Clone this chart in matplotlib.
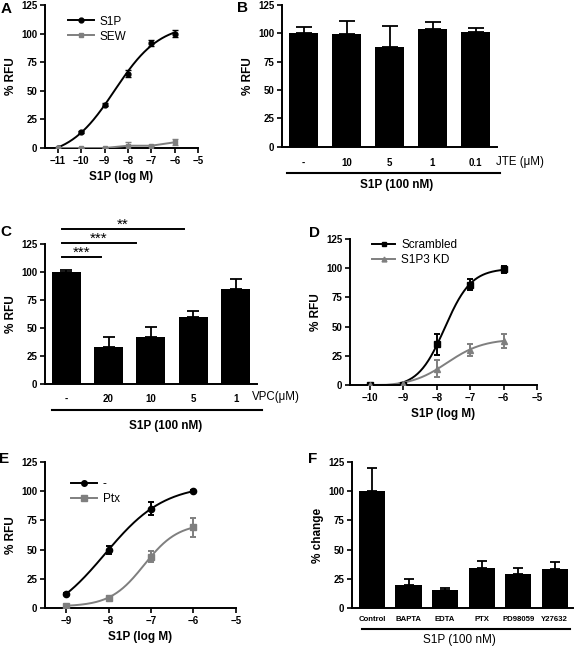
import numpy as np
import matplotlib
matplotlib.use('Agg')
import matplotlib.pyplot as plt

plt.rcParams['font.family'] = ['Liberation Sans', 'DejaVu Sans']

# ---------------- data ----------------
# A
a_x = [-11, -10, -9, -8, -7, -6]
a_s1p = [0, 14, 38, 65, 92, 100]
a_s1p_err = [0, 1, 1, 3, 2.5, 3]
a_sew = [0, 0, 0, 2, 2, 5]
a_sew_err = [0, 0, 0, 3, 0.5, 2.5]

# B
b_labels = ['-', '10', '5', '1', '0.1']
b_vals = [100, 99, 88, 104, 101]
b_err = [5.6, 12.3, 18.4, 5.8, 3.8]

# C
c_labels = ['-', '20', '10', '5', '1']
c_vals = [100, 33, 42, 60, 85]
c_err = [2, 9, 9, 5.4, 8.6]
c_sig = ['***', '***', '**']
c_sig_end = [0.82, 1.65, 2.78]
c_sig_y = [113.5, 126, 138.5]

# D
d_x = [-10, -9, -8, -7, -6]
d_scr = [0, 0, 35, 86, 99]
d_scr_err = [1, 1, 9, 5, 3]
d_kd = [0, 1, 14, 30, 38]
d_kd_err = [0.5, 1, 7, 5, 6]

# E
e_x = [-9, -8, -7, -6]
e_ctrl = [12, 50, 85, 100]
e_ctrl_err = [0.5, 3.5, 5.5, 1]
e_ptx = [2, 9, 44, 69]
e_ptx_err = [0.5, 1, 5, 8]

# F
f_labels = ['Control', 'BAPTA', 'EDTA', 'PTX', 'PD98059', 'Y27632']
f_vals = [100, 20, 15, 34, 29, 33]
f_err = [20, 4.5, 2.5, 6, 5, 6]

GRAY = '#7f7f7f'
yticks = [0, 25, 50, 75, 100, 125]
TICK_FS = 7
LAB_FS = 8.5


def fit_curve(x, y):
    # 4-parameter logistic by grid search over (logEC50, hill);
    # bottom and span solved by linear least squares at each grid point
    x = np.asarray(x, float)
    y = np.asarray(y, float)
    ec = np.linspace(-10.5, -5.5, 401)
    hill = np.linspace(0.3, 2.5, 221)
    E, H = np.meshgrid(ec, hill, indexing='ij')
    S = 1.0 / (1.0 + 10 ** ((E[..., None] - x) * H[..., None]))
    n = len(x)
    s1 = S.sum(-1)
    s2 = (S * S).sum(-1)
    sy = (S * y).sum(-1)
    det = n * s2 - s1 * s1
    bottom = (s2 * y.sum() - s1 * sy) / det
    span = (n * sy - s1 * y.sum()) / det
    res = ((bottom[..., None] + span[..., None] * S - y) ** 2).sum(-1)
    i = np.unravel_index(res.argmin(), res.shape)
    return E[i], H[i], bottom[i], span[i]


def curve(ax, x, y, color, lo, hi):
    ec, h, bottom, span = fit_curve(x, y)
    xx = np.linspace(lo, hi, 200)
    yy = bottom + span / (1 + 10 ** ((ec - xx) * h))
    ax.plot(xx, np.clip(yy, 0, None), color=color, lw=1.4, zorder=2)


def style(ax, ylabel):
    for s in ['top', 'right']:
        ax.spines[s].set_visible(False)
    for s in ['left', 'bottom']:
        ax.spines[s].set_linewidth(1.4)
    ax.set_ylim(0, 125)
    ax.set_yticks(yticks)
    ax.tick_params(direction='out', length=3.5, width=1.2, labelsize=TICK_FS, pad=2)
    for lab in ax.get_xticklabels() + ax.get_yticklabels():
        lab.set_fontweight('bold')
    ax.set_ylabel(ylabel, fontsize=LAB_FS, fontweight='bold', labelpad=3)


fig = plt.figure(figsize=(5.76, 6.48), dpi=100)

# ---------- A ----------
axA = fig.add_axes([0.078, 0.7716, 0.266, 0.2207])
curve(axA, a_x, a_s1p, 'black', -11, -6)
axA.errorbar(a_x, a_s1p, yerr=a_s1p_err, fmt='o', color='black', ms=3.5, capsize=2, elinewidth=1, zorder=3)
axA.errorbar(a_x, a_sew, yerr=a_sew_err, fmt='s-', color=GRAY, ms=3.5, capsize=2, lw=1.4, elinewidth=1, zorder=3)
hA1 = axA.plot([], [], 'o-', color='black', ms=3.5, lw=1.4, label='S1P')
hA2 = axA.plot([], [], 's-', color=GRAY, ms=3.5, lw=1.4, label='SEW')
axA.set_xlim(-11.55, -5)
axA.set_xticks(range(-11, -4))
axA.set_xticklabels(['\u221211', '\u221210', '\u22129', '\u22128', '\u22127', '\u22126', '\u22125'])
style(axA, '% RFU')
axA.set_xlabel('S1P (log M)', fontsize=LAB_FS, fontweight='bold', labelpad=4)
axA.legend(handles=hA1 + hA2, loc='upper left', bbox_to_anchor=(0.08, 1.0), frameon=False,
           fontsize=8.5, handlelength=2.2, handletextpad=0.5, labelspacing=0.25)

# ---------- B ----------
axB = fig.add_axes([0.4896, 0.7736, 0.3733, 0.2187])
xb = np.arange(len(b_vals))
axB.bar(xb, b_vals, width=0.67, color='black', zorder=2)
axB.errorbar(xb, b_vals, yerr=[np.zeros(len(b_err)), b_err], fmt='none', ecolor='black',
             capsize=5.5, elinewidth=1.3, capthick=1.3, zorder=1)
axB.set_xlim(-0.5, 4.5)
axB.set_xticks(xb)
axB.set_xticklabels(b_labels)
style(axB, '% RFU')
axB.tick_params(axis='x', length=0, pad=8)
axB.text(0.995, -0.108, 'JTE (\u03bcM)', transform=axB.transAxes, fontsize=8.3, ha='left', va='center')
axB.plot([0.023, 1.014], [-0.186, -0.186], transform=axB.transAxes, color='black', lw=1.5, clip_on=False)
axB.text(0.535, -0.27, 'S1P (100 nM)', transform=axB.transAxes, fontsize=8.5, fontweight='bold',
         ha='center', va='center')

# ---------- C ----------
axC = fig.add_axes([0.078, 0.4074, 0.368, 0.216])
xc = np.arange(len(c_vals))
axC.bar(xc, c_vals, width=0.68, color='black', zorder=2)
axC.errorbar(xc, c_vals, yerr=[np.zeros(len(c_err)), c_err], fmt='none', ecolor='black',
             capsize=4.5, elinewidth=1.3, capthick=1.3, zorder=1)
axC.set_xlim(-0.5, 4.5)
axC.set_xticks(xc)
axC.set_xticklabels(c_labels)
style(axC, '% RFU')
axC.tick_params(axis='x', length=0, pad=7)
for stars, x1, yy in zip(c_sig, c_sig_end, c_sig_y):
    x0 = -0.1
    axC.plot([x0, x1], [yy, yy], color='black', lw=1.4, clip_on=False)
    axC.text((x0 + x1) / 2, yy - 3, stars, fontsize=11, ha='center', va='bottom')
axC.text(0.976, -0.093, 'VPC(\u03bcM)', transform=axC.transAxes, fontsize=8.3, ha='left', va='center')
axC.plot([0.033, 1.024], [-0.186, -0.186], transform=axC.transAxes, color='black', lw=1.5, clip_on=False)
axC.text(0.571, -0.3, 'S1P (100 nM)', transform=axC.transAxes, fontsize=8.5, fontweight='bold',
         ha='center', va='center')

# ---------- D ----------
axD = fig.add_axes([0.6076, 0.4059, 0.3247, 0.2253])
curve(axD, d_x, d_scr, 'black', -10, -6)
curve(axD, d_x, d_kd, GRAY, -10, -6)
axD.errorbar(d_x, d_scr, yerr=d_scr_err, fmt='s', color='black', ms=4, capsize=2.5, elinewidth=1.4,
             capthick=1.4, zorder=3)
axD.errorbar(d_x, d_kd, yerr=d_kd_err, fmt='^', color=GRAY, ms=4, capsize=2.5, elinewidth=1.4,
             capthick=1.4, zorder=3)
hs = axD.plot([], [], 's-', color='black', ms=3.5, lw=1.4, label='Scrambled')
hk = axD.plot([], [], '^-', color=GRAY, ms=3.5, lw=1.4, label='S1P3 KD')
axD.set_xlim(-10.6, -5)
axD.set_xticks(range(-10, -4))
axD.set_xticklabels(['\u221210', '\u22129', '\u22128', '\u22127', '\u22126', '\u22125'])
style(axD, '% RFU')
axD.set_xlabel('S1P (log M)', fontsize=LAB_FS, fontweight='bold', labelpad=4)
axD.legend(handles=hs + hk, loc='upper left', bbox_to_anchor=(0.06, 1.07), frameon=False,
           fontsize=8.5, handlelength=2.0, handletextpad=0.5, labelspacing=0.25)

# ---------- E ----------
axE = fig.add_axes([0.078, 0.0617, 0.3316, 0.2253])
curve(axE, e_x, e_ctrl, 'black', -9, -6)
curve(axE, e_x, e_ptx, GRAY, -9, -6)
axE.errorbar(e_x, e_ctrl, yerr=e_ctrl_err, fmt='o', color='black', ms=4.5, capsize=2.5, elinewidth=1.4,
             capthick=1.4, zorder=3)
axE.errorbar(e_x, e_ptx, yerr=e_ptx_err, fmt='s', color=GRAY, ms=4.5, capsize=2.5, elinewidth=1.4,
             capthick=1.4, zorder=3)
h1 = axE.plot([], [], 'o-', color='black', ms=4, lw=1.4, label='-')
h2 = axE.plot([], [], 's-', color=GRAY, ms=4, lw=1.4, label='Ptx')
axE.set_xlim(-9.5, -5)
axE.set_xticks(range(-9, -4))
axE.set_xticklabels(['\u22129', '\u22128', '\u22127', '\u22126', '\u22125'])
style(axE, '% RFU')
axE.set_xlabel('S1P (log M)', fontsize=LAB_FS, fontweight='bold', labelpad=4)
axE.legend(handles=h1 + h2, loc='upper left', bbox_to_anchor=(0.08, 0.96), frameon=False,
           fontsize=8.5, handlelength=2.2, handletextpad=0.5, labelspacing=0.25)

# ---------- F ----------
axF = fig.add_axes([0.6111, 0.0617, 0.3837, 0.2253])
xf = np.arange(len(f_vals))
axF.bar(xf, f_vals, width=0.72, color='black', zorder=2)
axF.errorbar(xf, f_vals, yerr=[np.zeros(len(f_err)), f_err], fmt='none', ecolor='black',
             capsize=3.6, elinewidth=1.3, capthick=1.3, zorder=1)
axF.set_xlim(-0.55, 5.5)
axF.set_xticks(xf)
axF.set_xticklabels(f_labels)
style(axF, '% change')
axF.tick_params(axis='x', length=0, pad=6, labelsize=5.6)
axF.plot([0.045, 0.986], [-0.144, -0.144], transform=axF.transAxes, color='black', lw=1.5, clip_on=False)
axF.text(0.484, -0.219, 'S1P (100 nM)', transform=axF.transAxes, fontsize=8.5, ha='center', va='center')

# panel letters
for letter, (px, py) in zip('ABCDEF', [(6, 9), (243, 8.5), (6, 232), (315, 233), (4, 459), (313, 459)]):
    fig.text(px / 576, 1 - py / 648, letter, fontsize=11, fontweight='bold', ha='center', va='center')

fig.savefig('out.png', dpi=100)
